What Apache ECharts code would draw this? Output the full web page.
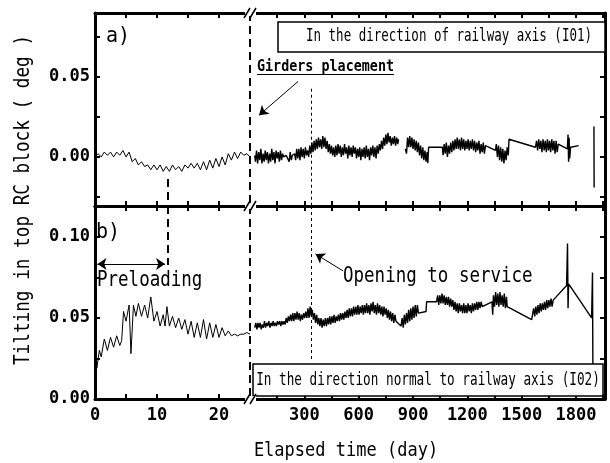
<!DOCTYPE html>
<html><head><meta charset="utf-8">
<script src="https://cdn.jsdelivr.net/npm/echarts@6/dist/echarts.min.js"></script>
<style>html,body{margin:0;padding:0;background:#fff}#c{width:610px;height:463px}</style>
</head><body><div id="c"></div>
<script>
// ---------- tick labels ----------
const leftDayTicks = [0, 10, 20];
const rightDayTicks = [300, 600, 900, 1200, 1500, 1800];
const aValTicks = [0, 0.05];
const bValTicks = [0, 0.05, 0.10];

// ---------- events (day) ----------
const girdersDay = 25;
const preloadEndDay = 11.8;
const openingDay = 340;

// ---------- panel a) : direction of railway axis (I01) ----------
const aEarly = [[0,.000],[0.5,.002],[1,.000],[1.5,.003],[2,.001],[2.5,.003],[3,.000],[3.5,.003],[4,.001],[4.5,.004],[5,.000],[5.5,.003],[6,-.003],[6.5,-.001],[7,-.005],[7.5,-.003],[8,-.006],[8.5,-.005],[9,-.008],[9.5,-.005],[10,-.008],[10.5,-.005],[11,-.009],[11.5,-.006],[12,-.009],[12.5,-.005],[13,-.008],[13.5,-.006],[14,-.009],[14.5,-.005],[15,-.007],[15.5,-.004],[16,-.007],[16.5,-.004],[17,-.008],[17.5,-.003],[18,-.008],[18.5,-.002],[19,-.007],[19.5,-.001],[20,-.006],[20.5,.000],[21,-.005],[21.5,.002],[22,-.002],[22.5,.003],[23,-.001],[23.5,.003],[24,.001],[24.5,.002],[25,.000]];

const aLate = [
[26,.001],[30,-.003],[36,.004],[42,-.004],[48,.003],[54,-.002],[60,.005],[66,-.004],[72,.002],[78,-.003],[84,.004],[90,-.002],[96,.003],[102,-.004],[108,.002],[114,-.003],[120,.005],[126,-.002],[132,.003],[138,-.004],[144,.004],[150,-.001],[156,.003],[162,-.003],[168,.004],[174,-.002],[180,.002],[186,.000],[192,.001],[200,.001],[210,.000],[216,-.003],[222,.003],[228,-.002],[234,.001],[240,.001],[246,.002],[252,-.002],[258,.005],[264,-.001],[270,.005],[276,-.002],[282,.006],[288,.000],[294,.005],[300,-.001],[306,.006],[312,.001],[318,.004],[324,.000],
[330,.007],[336,.002],[342,.009],[348,.003],[354,.010],[360,.004],[366,.011],[372,.005],[378,.012],[384,.006],[390,.011],[396,.005],[402,.013],[408,.006],[414,.012],[420,.005],[426,.010],[432,.003],[438,.008],[444,.002],[450,.007],[456,.001],[462,.006],
[468,.000],[474,.007],[480,.001],[486,.008],[492,.002],[498,.007],[504,.000],[510,.006],[516,.001],[522,.008],[528,.002],[534,.006],[540,-.001],[546,.007],[552,.001],[558,.006],[564,.000],[570,.007],[576,.002],[582,.006],[588,-.001],[594,.005],[600,.000],[606,.006],[612,-.002],[618,.005],[624,.000],[630,.006],[636,-.001],[642,.007],[648,.000],[654,.005],[660,-.002],[666,.006],[672,.001],[678,.007],[684,.000],[690,.006],[696,-.001],[702,.007],[708,.002],[714,.008],
[720,.004],[726,.010],[732,.005],[738,.012],[744,.007],[750,.014],[756,.008],[762,.015],[768,.009],[774,.013],[780,.007],[786,.012],[792,.008],[798,.013],[804,.007],[810,.012],[816,.008],[820,.011],
[838,null],
[858,.005],[864,.002],[870,.012],[876,.006],[882,.013],[888,.006],[894,.012],[900,.005],[906,.011],[912,.004],[918,.010],[924,.003],[930,.009],[936,.001],[942,.007],[948,-.001],[954,.006],[960,-.002],[966,.004],[972,-.003],[978,.003],[982,-.004],[986,.006],
[1062,.006],
[1066,.001],[1072,.008],[1078,.002],[1084,.009],[1090,.000],[1096,.007],[1102,.002],[1108,.009],[1114,.003],[1120,.010],[1126,.004],[1132,.011],[1138,.005],[1144,.012],[1150,.005],[1156,.011],[1162,.004],[1168,.012],[1174,.005],[1180,.011],[1186,.004],[1192,.010],[1198,.005],[1204,.011],[1210,.004],[1216,.010],[1222,.005],[1228,.011],[1234,.004],[1240,.010],[1246,.003],[1252,.009],[1258,.004],[1264,.010],[1270,.002],[1276,.008],[1282,.003],[1288,.009],[1294,.002],[1300,.007],
[1355,.004],
[1360,.008],[1366,.000],[1372,.007],[1378,-.002],[1384,.006],[1390,-.003],[1396,.005],[1402,-.004],[1408,.004],[1414,-.002],[1420,.006],[1426,.001],[1430,.011],
[1576,.006],
[1582,.010],[1588,.004],[1594,.011],[1600,.005],[1606,.010],[1612,.003],[1618,.011],[1624,.004],[1630,.010],[1636,.003],[1642,.011],[1648,.004],[1654,.010],[1660,.003],[1666,.011],[1672,.004],[1678,.010],[1684,.002],[1690,.010],[1696,.003],[1702,.008],
[1752,.005],
[1756,.014],[1759,-.003],[1762,.012],[1765,-.001],[1770,.006],
[1815,.007],
[1850,null],
[1899,.019],[1900,-.019]
];

// ---------- panel b) : direction normal to railway axis (I02) ----------
const bEarly = [[0,.027],[0.3,.019],[0.7,.030],[1,.026],[1.5,.037],[2,.030],[2.5,.038],[3,.032],[3.5,.039],[4,.033],[4.3,.036],[4.6,.054],[5,.048],[5.5,.058],[5.8,.028],[6.2,.058],[6.6,.051],[7,.059],[7.5,.051],[8,.058],[8.5,.050],[9,.063],[9.5,.048],[10,.054],[10.5,.045],[11,.052],[11.3,.045],[11.6,.057],[12,.045],[12.5,.051],[13,.044],[13.5,.050],[14,.043],[14.5,.049],[15,.040],[15.5,.048],[16,.038],[16.5,.047],[17,.038],[17.5,.049],[18,.037],[18.5,.047],[19,.038],[19.5,.046],[20,.038],[20.5,.044],[21,.039],[21.5,.042],[22,.039],[22.5,.040],[23,.039],[23.5,.040],[24,.040],[24.5,.041],[25,.040]];

const bLate = [
[26,.044],[32,.047],[38,.043],[44,.047],[50,.044],[56,.047],[62,.043],[68,.046],[74,.044],[80,.048],[86,.044],[92,.047],[98,.045],[104,.048],[110,.044],[116,.047],[122,.045],[128,.048],[134,.045],[140,.047],[146,.045],[152,.048],[158,.046],[164,.048],[170,.045],[176,.048],[182,.046],[188,.048],[194,.046],[200,.050],[206,.047],[212,.051],[218,.048],[224,.052],[230,.048],
[236,.053],[242,.048],[248,.053],[254,.049],[260,.054],[266,.049],[272,.053],[278,.048],[284,.052],[290,.049],[296,.053],[302,.050],[308,.054],[314,.050],
[320,.056],[326,.050],[332,.057],[338,.051],[344,.055],[350,.049],[356,.053],[362,.047],[368,.052],[374,.046],[380,.050],[386,.045],[392,.050],[398,.044],[404,.049],[410,.045],[416,.050],[422,.045],[428,.050],[434,.046],
[440,.051],[446,.046],[452,.051],[458,.047],[464,.052],[470,.047],[476,.051],[482,.048],[488,.052],[494,.048],[500,.053],[506,.049],[512,.053],[518,.049],[524,.054],[530,.050],
[536,.055],[542,.050],[548,.056],[554,.051],[560,.056],[566,.051],[572,.057],[578,.052],[584,.057],[590,.052],[596,.058],[602,.052],[608,.057],[614,.053],[620,.058],
[626,.052],[632,.058],[638,.053],[644,.059],[650,.053],[656,.058],[662,.052],[668,.059],[674,.054],[680,.060],[686,.053],[692,.058],[698,.052],[704,.059],[710,.053],[716,.058],[722,.052],[728,.057],[734,.051],[740,.057],[746,.052],[752,.056],
[758,.050],[764,.055],[770,.049],[776,.054],[782,.048],[788,.053],[794,.047],[800,.052],[806,.048],
[834,.045],
[840,.050],[846,.044],[852,.052],[858,.046],[864,.053],[870,.047],[876,.055],[882,.048],[888,.056],[894,.049],[900,.057],[906,.050],[912,.058],[918,.051],[924,.058],[930,.053],
[972,.054],[975,.060],[1030,.060],
[1036,.064],[1042,.058],[1048,.064],[1054,.059],[1060,.065],[1066,.059],[1072,.064],[1078,.058],[1084,.063],[1090,.058],[1096,.063],[1102,.057],[1108,.062],[1114,.057],
[1120,.061],[1126,.055],[1132,.060],[1138,.054],[1144,.059],[1150,.053],[1156,.059],[1162,.054],[1168,.058],[1174,.053],[1180,.059],[1186,.053],[1192,.058],[1198,.053],[1204,.059],[1210,.054],[1216,.058],[1222,.053],[1228,.059],[1234,.054],[1240,.059],[1246,.055],[1252,.060],[1258,.055],[1264,.060],[1270,.056],[1276,.060],[1282,.057],
[1336,.060],
[1340,.052],[1344,.064],[1350,.057],[1356,.066],[1362,.058],[1368,.065],[1374,.057],[1380,.066],[1386,.058],[1392,.064],[1398,.057],[1404,.065],[1410,.056],[1416,.063],[1420,.057],
[1425,.058],[1555,.049],
[1560,.052],[1566,.056],[1572,.051],[1578,.057],[1584,.052],[1590,.058],[1596,.053],[1602,.059],[1608,.054],[1614,.059],[1620,.055],[1626,.060],[1632,.055],[1638,.061],[1644,.056],[1650,.061],[1656,.057],[1662,.062],[1668,.057],[1674,.061],
[1748,.070],
[1753,.096],[1756,.056],[1759,.071],
[1886,.050],
[1891,.078],[1893,.021]
];

// ---------- chart ----------
const FONT = '"DejaVu Sans Mono", monospace';
const BLACK = '#000';

function isIn(list, v) { return list.some(t => Math.abs(t - v) < 1e-9); }

function xAxisDef(gridIndex, position, min, max, interval, labels) {
  return {
    type: 'value', gridIndex, position, min, max, interval,
    axisLine: { show: true, onZero: false, lineStyle: { color: BLACK, width: 3 } },
    axisTick: { show: true, inside: true, length: 5, lineStyle: { color: BLACK, width: 2 } },
    axisLabel: labels ? {
      show: true, margin: 8, color: BLACK, fontFamily: FONT, fontSize: 17, fontWeight: 'bold',
      showMinLabel: true, showMaxLabel: true,
      formatter: v => isIn(labels, v) ? String(Math.round(v)) : ''
    } : { show: false },
    splitLine: { show: false }
  };
}
function yAxisDef(gridIndex, position, min, max, labels) {
  return {
    type: 'value', gridIndex, position, min, max, minInterval: 0.025, maxInterval: 0.025,
    axisLine: { show: true, onZero: false, lineStyle: { color: BLACK, width: 3 } },
    axisTick: { show: true, inside: true, length: 5, lineStyle: { color: BLACK, width: 2 } },
    axisLabel: labels ? {
      show: true, margin: 5, color: BLACK, fontFamily: FONT, fontSize: 17, fontWeight: 'bold',
      showMinLabel: true, showMaxLabel: true,
      formatter: v => isIn(labels, v) ? v.toFixed(2) : ''
    } : { show: false },
    splitLine: { show: false }
  };
}

const A_MIN = -0.0306, A_MAX = 0.0897, B_MIN = 0, B_MAX = 0.1191;
const R_MAX = 1960, L_MAX = 25;

const girdersStyle = { color: BLACK, width: 2, type: [8, 5] };
const openingStyle = { color: BLACK, width: 1, type: [3, 3] };
const arrowStyle = { color: BLACK, width: 1, type: 'solid' };

function lineSeries(xi, yi, data, markData, width) {
  return {
    type: 'line', xAxisIndex: xi, yAxisIndex: yi, data,
    symbol: 'none', clip: false, connectNulls: false, animation: false,
    lineStyle: { color: BLACK, width: width },
    markLine: {
      silent: true, animation: false, symbol: ['none', 'none'], symbolSize: 9,
      label: { show: false }, data: markData
    }
  };
}

const option = {
  backgroundColor: '#fff',
  animation: false,
  grid: [
    { left: 95, top: 13, width: 155, height: 193 },
    { left: 250, top: 13, width: 355, height: 193 },
    { left: 95, top: 206, width: 155, height: 193 },
    { left: 250, top: 206, width: 355, height: 193 }
  ],
  xAxis: [
    xAxisDef(0, 'bottom', 0, L_MAX, 5, null),
    xAxisDef(0, 'top', 0, L_MAX, 5, null),
    xAxisDef(1, 'bottom', 0, R_MAX, 150, null),
    xAxisDef(1, 'top', 0, R_MAX, 150, null),
    xAxisDef(2, 'bottom', 0, L_MAX, 5, leftDayTicks),
    xAxisDef(2, 'top', 0, L_MAX, 5, null),
    xAxisDef(3, 'bottom', 0, R_MAX, 150, rightDayTicks),
    xAxisDef(3, 'top', 0, R_MAX, 150, null)
  ],
  yAxis: [
    yAxisDef(0, 'left', A_MIN, A_MAX, aValTicks),
    yAxisDef(1, 'right', A_MIN, A_MAX, null),
    yAxisDef(2, 'left', B_MIN, B_MAX, bValTicks),
    yAxisDef(3, 'right', B_MIN, B_MAX, null)
  ],
  series: [
    lineSeries(0, 0, aEarly, [
      [{ coord: [girdersDay, A_MAX], lineStyle: girdersStyle }, { coord: [girdersDay, A_MIN] }],
      [{ coord: [preloadEndDay, -0.0138], lineStyle: girdersStyle }, { coord: [preloadEndDay, A_MIN] }]
    ], 1),
    lineSeries(2, 1, aLate, [
      [{ coord: [openingDay, 0.0425], lineStyle: openingStyle }, { coord: [openingDay, A_MIN] }],
      [{ coord: [265, 0.047], lineStyle: arrowStyle, symbol: 'none' }, { coord: [50, 0.026], symbol: 'arrow' }]
    ], 1.4),
    lineSeries(4, 2, bEarly, [
      [{ coord: [girdersDay, B_MAX], lineStyle: girdersStyle }, { coord: [girdersDay, B_MIN] }],
      [{ coord: [preloadEndDay, B_MAX], lineStyle: girdersStyle }, { coord: [preloadEndDay, 0.0827] }],
      [{ coord: [0.4, 0.0833], lineStyle: arrowStyle, symbol: 'arrow' }, { coord: [11.3, 0.0833], symbol: 'arrow' }]
    ], 1),
    lineSeries(6, 3, bLate, [
      [{ coord: [openingDay, B_MAX], lineStyle: openingStyle }, { coord: [openingDay, 0.023] }],
      [{ coord: [514, 0.079], lineStyle: arrowStyle, symbol: 'none' }, { coord: [362, 0.0895], symbol: 'arrow' }]
    ], 1.4)
  ]
};

function txt(x, y, text, size, opt) {
  opt = opt || {};
  return {
    type: 'text', x, y, z: 100, scaleY: opt.sy || 1.2, rotation: opt.rot || 0,
    style: {
      text, fill: BLACK, font: (opt.bold ? 'bold ' : '') + size + 'px ' + FONT,
      align: opt.align || 'left', verticalAlign: 'middle',
      textAlign: opt.align || 'left', textVerticalAlign: 'middle'
    }
  };
}
function ln(x1, y1, x2, y2, w) {
  return { type: 'line', z: 101, shape: { x1, y1, x2, y2 }, style: { stroke: BLACK, lineWidth: w || 1.5 } };
}
function box(x, y, w, h) {
  return { type: 'rect', z: 99, shape: { x, y, width: w, height: h }, style: { fill: '#fff', stroke: BLACK, lineWidth: 1.5 } };
}
function breakMark(cx, cy) {
  return [
    { type: 'rect', z: 100, shape: { x: cx - 5, y: cy - 3, width: 11, height: 6 }, style: { fill: '#fff' } },
    ln(cx - 6, cy + 5, cx, cy - 5, 1.5),
    ln(cx, cy + 5, cx + 6, cy - 5, 1.5)
  ];
}

option.graphic = { elements: [].concat(
  breakMark(250, 13), breakMark(250, 206), breakMark(250, 399),
  [
    box(278, 22, 327, 30),
    txt(449, 37, 'In the direction of railway axis (I01)', 12.5, { align: 'center', sy: 1.35 }),
    box(253, 364, 350, 32),
    txt(428, 381, 'In the direction normal to railway axis (I02)', 12.7, { align: 'center', sy: 1.35 }),
    txt(106, 36, 'a)', 20, { sy: 1.1 }),
    txt(96, 232, 'b)', 20, { sy: 1.1 }),
    txt(257, 67, 'Girders placement', 13.4, { bold: true, sy: 1.15 }),
    ln(257, 74.5, 394, 74.5, 1.2),
    txt(97, 281, 'Preloading', 17.5),
    txt(343, 277, 'Opening to service', 17.5),
    txt(24, 200, 'Tilting in top RC block ( deg )', 17.7, { align: 'center', rot: Math.PI / 2, sy: 1.15 }),
    txt(346, 451, 'Elapsed time (day)', 17, { align: 'center', sy: 1.15 })
  ]
)};

const chart = echarts.init(document.getElementById('c'), null, { renderer: 'canvas' });
chart.setOption(option);
</script></body></html>
